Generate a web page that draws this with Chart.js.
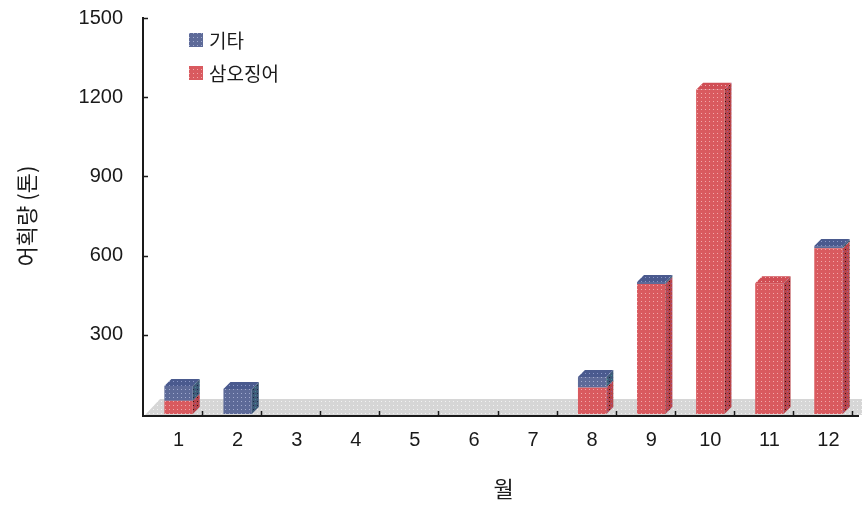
<!DOCTYPE html>
<html>
<head>
<meta charset="utf-8">
<script src="https://cdn.jsdelivr.net/npm/chart.js@4.4.0/dist/chart.umd.min.js"></script>
<style>
body{margin:0;background:#fff;}
</style>
</head>
<body>
<canvas id="c" width="862" height="509"></canvas>
<script>
// data
var months = ['1','2','3','4','5','6','7','8','9','10','11','12'];
var squid  = [50, 0, 0, 0, 0, 0, 0, 100, 492, 1228, 495, 628];
var others = [56, 95, 0, 0, 0, 0, 0, 40, 8, 0, 0, 8];
var yTicks = [0, 300, 600, 900, 1200, 1500];

// dotted fill, like the old print
function dots(base, dot, dot2){
  var t = document.createElement('canvas');
  t.width = 4; t.height = 4;
  var g = t.getContext('2d');
  g.fillStyle = base; g.fillRect(0,0,4,4);
  g.fillStyle = dot; g.fillRect(1,1,1,1);
  if(dot2){ g.fillStyle = dot2; g.fillRect(3,3,1,1); }
  return g.createPattern(t, 'repeat');
}

var redFront = dots('#d95a5f', '#f2a9ab');
var redSide  = dots('#b8454b', '#3a1010', '#9a5a9a');
var redTop   = dots('#d04e55', '#f0b0b0');
var blueFront = dots('#5d6a98', '#a2abcf');
var blueSide  = dots('#3f5a7a', '#1a2a40', '#3f9090');
var blueTop   = dots('#4a5a8e', '#8c98c8');
var floorFill = dots('#d6d6d6', '#f2f2f2');

var D = 7; // depth of the 3d boxes

var bar3d = {
  id: 'bar3d',
  beforeDatasetsDraw: function(chart){
    var ctx = chart.ctx, a = chart.chartArea;
    var b = chart.scales.y.getPixelForValue(0);
    ctx.save();
    ctx.fillStyle = floorFill;
    ctx.beginPath();
    ctx.moveTo(a.left - 4, b + 1);
    ctx.lineTo(a.left + 11, b - 15);
    ctx.lineTo(a.right + 4, b - 15);
    ctx.lineTo(a.right + 4, b + 1);
    ctx.closePath();
    ctx.fill();
    ctx.restore();
  },
  afterDatasetsDraw: function(chart){
    var ctx = chart.ctx;
    var sets = chart.data.datasets;
    ctx.save();
    sets.forEach(function(ds, di){
      var meta = chart.getDatasetMeta(di);
      meta.data.forEach(function(bar, i){
        if(!ds.data[i]) return;
        var p = bar.getProps(['x','y','base','width'], true);
        var l = p.x - p.width/2, r = p.x + p.width/2;
        ctx.fillStyle = ds.sideColor;
        ctx.beginPath();
        ctx.moveTo(r, p.y); ctx.lineTo(r + D, p.y - D);
        ctx.lineTo(r + D, p.base - D); ctx.lineTo(r, p.base);
        ctx.closePath(); ctx.fill();
        var top = true;
        for(var k = di + 1; k < sets.length; k++) if(sets[k].data[i]) top = false;
        if(top){
          ctx.fillStyle = ds.topColor;
          ctx.beginPath();
          ctx.moveTo(l, p.y); ctx.lineTo(l + D, p.y - D);
          ctx.lineTo(r + D, p.y - D); ctx.lineTo(r, p.y);
          ctx.closePath(); ctx.fill();
        }
      });
    });
    ctx.restore();
  },
  afterDraw: function(chart){
    var ctx = chart.ctx, a = chart.chartArea;
    var y = chart.scales.y, x = chart.scales.x;
    var b = y.getPixelForValue(0) + 2;
    var ax = a.left - 6;
    ctx.save();
    ctx.strokeStyle = '#1a1a1a';
    ctx.lineWidth = 2;
    ctx.beginPath();
    ctx.moveTo(ax, y.getPixelForValue(1500) - 1);
    ctx.lineTo(ax, b);
    ctx.lineTo(a.right + 1, b);
    ctx.stroke();
    ctx.lineWidth = 1.5;
    ctx.beginPath();
    yTicks.forEach(function(v){
      if(v === 0) return;
      var py = Math.round(y.getPixelForValue(v)) + 0.5;
      ctx.moveTo(ax, py); ctx.lineTo(ax + 5, py);
    });
    var half = (x.getPixelForValue(1) - x.getPixelForValue(0)) / 2;
    for(var i = 0; i < months.length; i++){
      var px = Math.round(x.getPixelForValue(i) + half - 6) + 0.5;
      ctx.moveTo(px, b); ctx.lineTo(px, b - 5);
    }
    ctx.stroke();

    // legend
    var items = [
      {label: '기타', fill: blueFront},
      {label: '삼오징어', fill: redFront}
    ];
    ctx.font = '19px "Noto Sans CJK KR"';
    ctx.textBaseline = 'middle';
    items.forEach(function(it, k){
      var cy = 40 + k * 33;
      ctx.fillStyle = it.fill;
      ctx.fillRect(189, cy - 7, 14, 14);
      ctx.fillStyle = '#1a1a1a';
      ctx.fillText(it.label, 209, cy + 1);
    });
    ctx.restore();
  }
};

var ctx = document.getElementById('c').getContext('2d');
var chart = new Chart(ctx, {
  type: 'bar',
  data: {
    labels: months,
    datasets: [
      {label: '삼오징어', data: squid, backgroundColor: redFront, sideColor: redSide, topColor: redTop,
       borderWidth: 0, barPercentage: 0.48, categoryPercentage: 1},
      {label: '기타', data: others, backgroundColor: blueFront, sideColor: blueSide, topColor: blueTop,
       borderWidth: 0, barPercentage: 0.48, categoryPercentage: 1}
    ]
  },
  options: {
    responsive: false,
    animation: false,
    devicePixelRatio: 1,
    layout: {padding: {top: 18, right: 4, left: 0, bottom: 0}},
    plugins: {legend: {display: false}, tooltip: {enabled: false}},
    scales: {
      x: {
        stacked: true,
        grid: {display: false, drawTicks: false},
        border: {display: false},
        ticks: {padding: 14, color: '#1a1a1a', font: {family: 'Liberation Sans', size: 20}},
        title: {display: true, text: '월', color: '#1a1a1a',
                font: {family: 'Noto Sans CJK KR', size: 22}, padding: {top: 0, bottom: 7}},
        afterFit: function(s){ s.height = 95; }
      },
      y: {
        stacked: true,
        min: 0, max: 1500,
        // tick marks are drawn by hand; the length only pushes the labels away
        grid: {display: false, drawTicks: true, tickLength: 26},
        border: {display: false},
        afterBuildTicks: function(s){ s.ticks = yTicks.map(function(v){ return {value: v}; }); },
        ticks: {padding: 0, color: '#1a1a1a', font: {family: 'Liberation Sans', size: 20},
                callback: function(v){ return v === 0 ? '' : v; }},
        title: {display: true, text: '어획량 (톤)', color: '#1a1a1a',
                font: {family: 'Noto Sans CJK KR', size: 22}, padding: {top: 13, bottom: 0}},
        afterFit: function(s){ s.width = 149; }
      }
    }
  },
  plugins: [bar3d]
});
</script>
</body>
</html>
